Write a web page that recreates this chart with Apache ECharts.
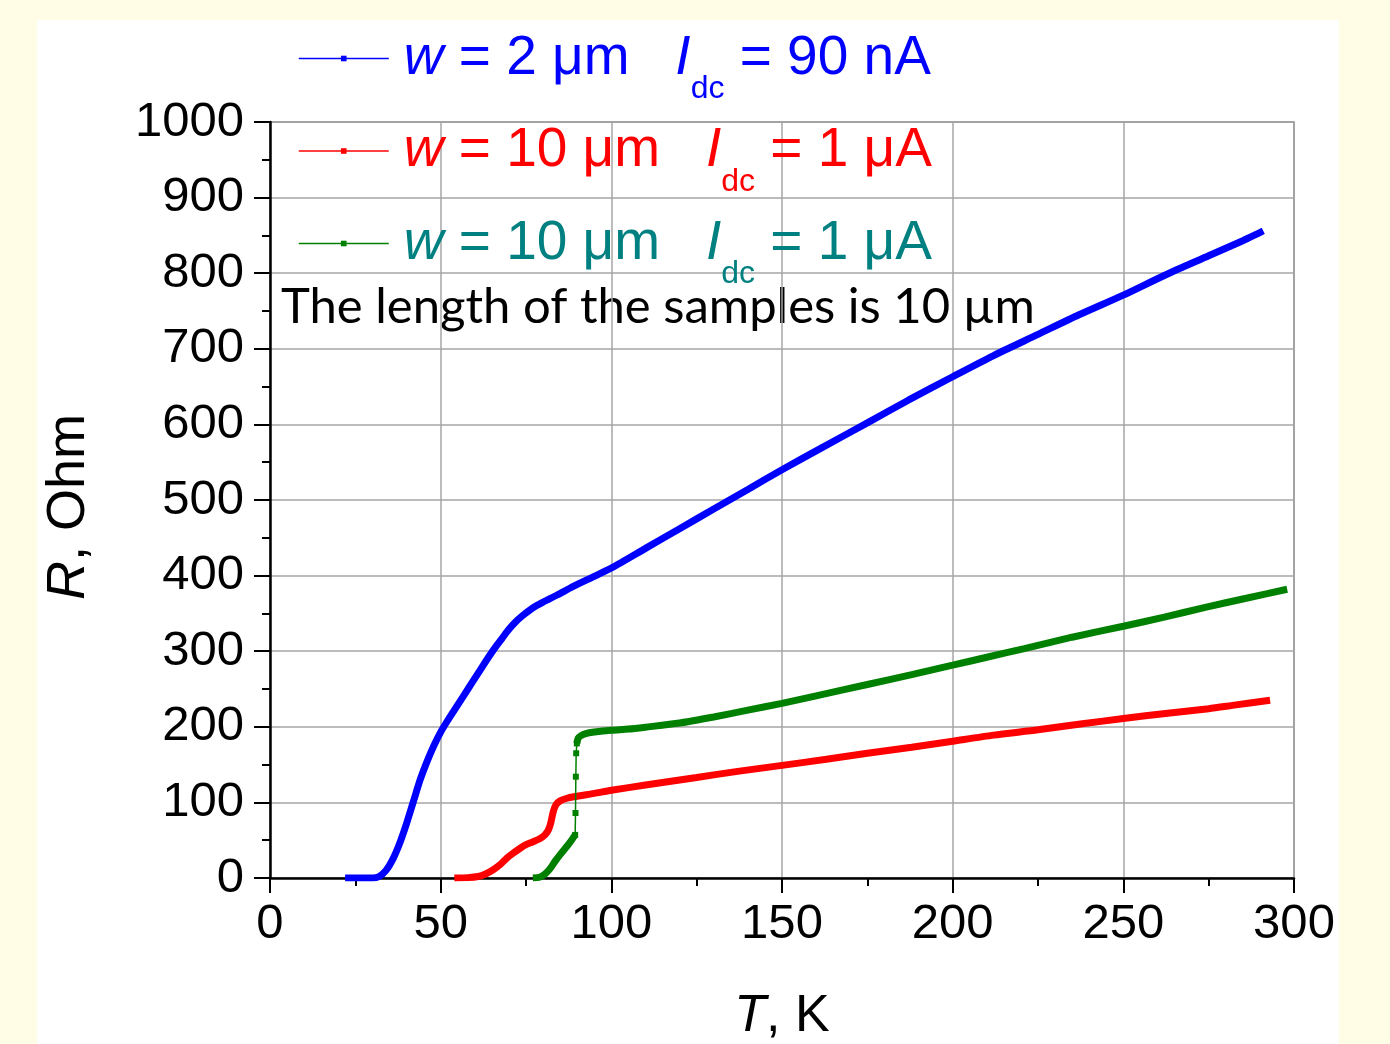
<!DOCTYPE html>
<html>
<head>
<meta charset="utf-8">
<script src="https://cdn.jsdelivr.net/npm/echarts@6/dist/echarts.min.js"></script>
<style>
html, body { margin: 0; padding: 0; background: #fffde6; }
#panel { position: absolute; left: 37px; top: 20px; width: 1302px; height: 1024px; background: #fff; }
#chart { position: absolute; left: 0; top: 0; width: 1390px; height: 1044px; }
</style>
</head>
<body>
<div id="panel"></div>
<div id="chart"></div>
<script>
// R(T) curves, T in K, R in Ohm
var blueData = [[22,0],[30,0],[32,2],[34,10],[36,25],[38,46],[40,72],[42,101],[44,130],[46,154],[48,175],[50,193],[52,208],[54,222],[56,236],[58,250],[60,264],[62,278],[64,292],[66,305],[68,317],[70,329],[72,339],[74,347],[76,354],[78,360],[80,365],[84,374],[89,386],[95,399],[100,410],[110,436],[120,462],[130,488],[140,514],[150,540],[162,570],[175,602],[187,632],[200,663],[212,691],[225,719],[237,745],[250,771],[262,797],[275,823],[285,843],[291,856]];
var redData = [[54,0],[58,0.5],[61,2],[63,5],[65.4,11],[67.5,18],[69.3,26],[71,32],[73.2,39],[75,44],[77.1,48],[79,52],[80.5,57],[81.5,63],[82.2,72],[83,88],[83.8,97],[85,102],[87,105.5],[89,107.5],[95,112],[100,116],[110,123],[125,133],[137,141],[150,149],[163,157],[175,165],[188,173],[200,181],[212,189],[225,196],[238,204],[250,211],[263,218],[275,224],[283,229],[293,235]];
var greenLow = [[77,0],[79,1],[80.5,5],[82,12],[83.5,22],[85,31],[87,42],[88.5,51],[89.4,57]];
var greenJump = [[89.4,57],[89.5,86],[89.6,134],[89.7,165],[89.9,178]];
var greenHigh = [[89.9,178],[90.3,185],[91,188],[92.5,191],[95,193],[100,195.5],[105,197],[110,199.5],[120,205],[130,213],[140,222],[150,231],[160,241],[175,256],[188,269],[200,281.5],[210,292],[221,303.5],[235,318.5],[250,333],[262,345],[274,358],[286,370],[298,382]];

var legendNames = ['blue', 'red', 'green'];
var legendText = {
	blue: ['2', '90 nA'],
	red: ['10', '1 \u03bcA'],
	green: ['10', '1 \u03bcA']
};
var colors = { blue: '#0000ff', red: '#ff0000', green: '#008000' };
var textColors = { blue: '#0000ff', red: '#ff0000', green: '#008080' };

var font = 'Liberation Sans';
var rich = {};
legendNames.forEach(function (k) {
	var c = textColors[k];
	rich['w' + k] = { fontFamily: font, fontSize: 55, fontStyle: 'italic', color: c, padding: [0, 0, 0, 10] };
	rich['t' + k] = { fontFamily: font, fontSize: 55, color: c };
	rich['i' + k] = { fontFamily: font, fontSize: 55, fontStyle: 'italic', color: c };
	rich['s' + k] = { fontFamily: font, fontSize: 32, color: c, padding: [62, 0, 0, 0] };
});

var mycharts = echarts.init(document.getElementById('chart'));
var option = {
	animation: false,
	grid: {
		left: 270, top: 122, width: 1024, height: 756,
		show: true, borderColor: '#7a7a7a', borderWidth: 1.5,
		outerBoundsMode: 'none'
	},
	legend: {
		orient: 'vertical',
		left: 298, top: 31, padding: 0,
		itemWidth: 90, itemHeight: 7, itemGap: 18,
		lineStyle: { width: 1.5 },
		data: legendNames,
		formatter: function (name) {
			var t = legendText[name];
			return '{w' + name + '|w}{t' + name + '| = ' + t[0] + ' \u03bcm   }{i' + name + '|I}{s' + name + '|dc}{t' + name + '| = ' + t[1] + '}';
		},
		textStyle: { rich: rich }
	},
	xAxis: {
		type: 'value', min: 0, max: 300, interval: 50,
		name: '{i|T}, K', nameLocation: 'middle', nameGap: 113,
		nameTextStyle: { fontFamily: font, fontSize: 52, color: '#000', rich: { i: { fontFamily: font, fontSize: 52, fontStyle: 'italic', color: '#000' } } },
		axisLine: { lineStyle: { color: '#000', width: 2.5 } },
		axisTick: { length: 15, lineStyle: { color: '#000', width: 2 } },
		minorTick: { show: true, splitNumber: 2, length: 8, lineStyle: { color: '#000', width: 2 } },
		axisLabel: { fontFamily: font, fontSize: 49, color: '#000', margin: 22 },
		splitLine: { show: true, lineStyle: { color: '#a6a6a6', width: 1.5 } }
	},
	yAxis: {
		type: 'value', min: 0, max: 1000, interval: 100,
		name: '{i|R}, Ohm', nameLocation: 'middle', nameGap: 174, nameRotate: 90,
		nameTextStyle: { fontFamily: font, fontSize: 54, color: '#000', padding: [0, 14, 0, 0], rich: { i: { fontFamily: font, fontSize: 54, fontStyle: 'italic', color: '#000' } } },
		axisLine: { lineStyle: { color: '#000', width: 2.5 } },
		axisTick: { length: 16, lineStyle: { color: '#000', width: 2 } },
		minorTick: { show: true, splitNumber: 2, length: 8, lineStyle: { color: '#000', width: 2 } },
		axisLabel: { fontFamily: font, fontSize: 49, color: '#000', margin: 26, formatter: function (v) { return String(v); } },
		splitLine: { show: true, lineStyle: { color: '#a6a6a6', width: 1.5 } }
	},
	graphic: [{
		type: 'text', left: 281, top: 283,
		style: { text: 'The length of the samples is 10 \u00b5m', font: '49px Lato', fill: '#000' }
	}],
	series: [
		{ name: 'blue', type: 'line', data: blueData, symbol: 'rect', showSymbol: false, smooth: 0.25,
		  lineStyle: { color: colors.blue, width: 7 }, itemStyle: { color: colors.blue } },
		{ name: 'red', type: 'line', data: redData, symbol: 'rect', showSymbol: false, smooth: 0.25,
		  lineStyle: { color: colors.red, width: 7 }, itemStyle: { color: colors.red } },
		{ name: 'green', type: 'line', data: greenLow, symbol: 'rect', showSymbol: false, smooth: 0.25,
		  lineStyle: { color: colors.green, width: 7 }, itemStyle: { color: colors.green } },
		{ name: 'greenJump', type: 'line', data: greenJump, symbol: 'rect', symbolSize: 6,
		  lineStyle: { color: colors.green, width: 1.5 }, itemStyle: { color: colors.green } },
		{ name: 'green', type: 'line', data: greenHigh, symbol: 'rect', showSymbol: false, smooth: 0.25,
		  lineStyle: { color: colors.green, width: 7 }, itemStyle: { color: colors.green } }
	]
};
mycharts.setOption(option);
</script>
</body>
</html>
